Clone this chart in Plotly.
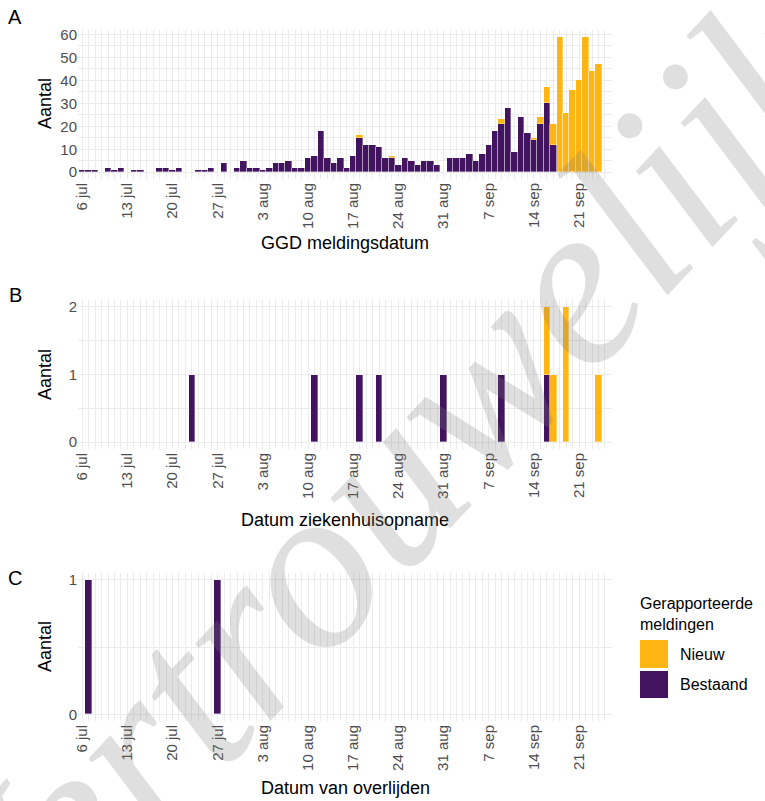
import plotly.graph_objects as go
import pandas as pd

W, H = 765, 801

# ---------------- data ----------------
tick_dates = ["2020-07-06", "2020-07-13", "2020-07-20", "2020-07-27", "2020-08-03", "2020-08-10",
              "2020-08-17", "2020-08-24", "2020-08-31", "2020-09-07", "2020-09-14", "2020-09-21"]
tick_labels = ["6 jul", "13 jul", "20 jul", "27 jul", "3 aug", "10 aug",
               "17 aug", "24 aug", "31 aug", "7 sep", "14 sep", "21 sep"]

# Panel A: GGD meldingsdatum, one value per day from 6 jul to 24 sep
dates_a = pd.date_range("2020-07-06", "2020-09-24", freq="D")
a_bestaand = [1, 1, 1, 0, 2, 1, 2, 0, 1, 1,
              0, 0, 2, 2, 1, 2, 0, 0, 1, 1,
              2, 0, 4, 0, 2, 5, 2, 2, 1, 2,
              4, 4, 5, 2, 2, 6, 7, 18, 6, 4,
              6, 2, 7, 15, 12, 12, 11, 6, 6, 3,
              6, 5, 3, 5, 5, 3, 0, 6, 6, 6,
              8, 5, 8, 12, 18, 21, 28, 9, 24, 17,
              14, 21, 30, 12, 0, 0, 0, 0, 0, 0, 0]
a_nieuw = [0, 0, 0, 0, 0, 0, 0, 0, 0, 0,
           0, 0, 0, 0, 0, 0, 0, 0, 0, 0,
           0, 0, 0, 0, 0, 0, 0, 0, 0, 0,
           0, 0, 0, 0, 0, 0, 0, 0, 0, 0,
           0, 0, 0, 1, 0, 0, 0, 0, 1, 0,
           0, 0, 0, 0, 0, 0, 0, 0, 0, 0,
           0, 0, 0, 0, 0, 2, 0, 0, 0, 0,
           1, 3, 7, 9, 59, 26, 36, 40, 59, 44, 47]

# Panel B: Datum ziekenhuisopname
b_bestaand_dates = ["2020-07-23", "2020-08-11", "2020-08-18", "2020-08-21", "2020-08-31", "2020-09-09", "2020-09-16"]
b_bestaand = [1, 1, 1, 1, 1, 1, 1]
b_nieuw_dates = ["2020-09-16", "2020-09-17", "2020-09-19", "2020-09-24"]
b_nieuw = [1, 1, 2, 1]

# Panel C: Datum van overlijden
c_bestaand_dates = ["2020-07-07", "2020-07-27"]
c_bestaand = [1, 1]

# ---------------- style ----------------
PURPLE = "#42145f"
ORANGE = "#ffb612"
GRID = "#EBEBEB"
FONT = "Liberation Sans"
DAY = 86400000


def px(x):
    return x / W


def py(y):
    return 1 - y / H


def nz(vals):
    return [v if v else None for v in vals]


fig = go.Figure()

bar_kw = dict(width=DAY, marker_line_color="rgba(255,255,255,0.7)", marker_line_width=0.5,
              showlegend=False, hoverinfo="x+y")

fig.add_trace(go.Bar(x=dates_a, y=nz(a_bestaand), name="Bestaand", marker_color=PURPLE,
                     xaxis="x", yaxis="y", **bar_kw))
fig.add_trace(go.Bar(x=dates_a, y=nz(a_nieuw), name="Nieuw", marker_color=ORANGE,
                     xaxis="x", yaxis="y", **bar_kw))
fig.add_trace(go.Bar(x=b_bestaand_dates, y=b_bestaand, name="Bestaand", marker_color=PURPLE,
                     xaxis="x2", yaxis="y2", **bar_kw))
fig.add_trace(go.Bar(x=b_nieuw_dates, y=b_nieuw, name="Nieuw", marker_color=ORANGE,
                     xaxis="x2", yaxis="y2", **bar_kw))
fig.add_trace(go.Bar(x=c_bestaand_dates, y=c_bestaand, name="Bestaand", marker_color=PURPLE,
                     xaxis="x3", yaxis="y3", **bar_kw))

x_left, x_right = 78, 612
panels = [  # (top px, bottom px, y range, y ticks, y minor dtick)
    (30, 179, [-2.95, 61.95], [0, 10, 20, 30, 40, 50, 60], 5),
    (300, 449, [-0.1, 2.1], [0, 1, 2], 0.5),
    (573, 721, [-0.05, 1.05], [0, 1], 0.5),
]

layout = dict(
    width=W, height=H, margin=dict(l=0, r=0, t=0, b=0, autoexpand=False),
    paper_bgcolor="white", plot_bgcolor="white",
    barmode="stack", bargap=0,
    font=dict(family=FONT, color="#4D4D4D", size=15),
)

for i, (top, bot, yr, yt, ymin) in enumerate(panels):
    sx = "" if i == 0 else str(i + 1)
    layout["xaxis" + sx] = dict(
        domain=[px(x_left), px(x_right)], anchor="y" + sx, type="date", automargin=False,
        range=["2020-07-05 08:24", "2020-09-26 02:24"],
        tickmode="array", tickvals=tick_dates, ticktext=tick_labels, tickangle=-90,
        showgrid=True, gridcolor=GRID, gridwidth=1.1, zeroline=False, showline=False, ticks="",
        tickfont=dict(size=15, color="#4D4D4D", family=FONT),
        minor=dict(tickmode="linear", tick0="2020-07-06", dtick=DAY, showgrid=True,
                   gridcolor=GRID, gridwidth=0.7, ticks=""),
        fixedrange=True,
    )
    layout["yaxis" + sx] = dict(
        domain=[py(bot), py(top)], anchor="x" + sx, range=yr, automargin=False,
        tickmode="array", tickvals=yt, showgrid=True, gridcolor=GRID, gridwidth=1.1,
        zeroline=False, showline=False, ticks="",
        tickfont=dict(size=15, color="#4D4D4D", family=FONT),
        minor=dict(tickmode="linear", tick0=0, dtick=ymin, showgrid=True, gridcolor=GRID,
                   gridwidth=0.7, ticks=""),
        fixedrange=True,
    )

fig.update_layout(**layout)

ann = []
# panel letters
for letter, y in [("A", 17), ("B", 295), ("C", 578)]:
    ann.append(dict(text=letter, x=px(15), y=py(y), xanchor="center", yanchor="middle",
                    font=dict(size=20, color="black", family=FONT)))
# y titles
for y in [104, 375, 647]:
    ann.append(dict(text="Aantal", x=px(45), y=py(y), textangle=-90, xanchor="center",
                    yanchor="middle", font=dict(size=18, color="black", family=FONT)))
# x titles
for t, y in [("GGD meldingsdatum", 243), ("Datum ziekenhuisopname", 520), ("Datum van overlijden", 788)]:
    ann.append(dict(text=t, x=px(345), y=py(y), xanchor="center", yanchor="middle",
                    font=dict(size=18, color="black", family=FONT)))
# legend
ann.append(dict(text="Gerapporteerde<br>meldingen", x=px(638), y=py(593), xanchor="left", yanchor="top",
                align="left", font=dict(size=16, color="black", family=FONT)))
ann.append(dict(text="Nieuw", x=px(678), y=py(654), xanchor="left", yanchor="middle",
                font=dict(size=16, color="black", family=FONT)))
ann.append(dict(text="Bestaand", x=px(678), y=py(684), xanchor="left", yanchor="middle",
                font=dict(size=16, color="black", family=FONT)))
# watermark
ann.append(dict(text="Vertrouwelijk", x=px(378), y=py(490), textangle=-47, xanchor="center",
                yanchor="middle",
                font=dict(size=235, color="rgba(120,120,120,0.24)", family="Liberation Serif",
                          style="italic")))

for a in ann:
    a.update(xref="paper", yref="paper", showarrow=False)
fig.update_layout(annotations=ann)

fig.update_layout(shapes=[
    dict(type="rect", xref="paper", yref="paper", x0=px(640), x1=px(668), y0=py(668), y1=py(640),
         fillcolor=ORANGE, line=dict(width=0)),
    dict(type="rect", xref="paper", yref="paper", x0=px(640), x1=px(668), y0=py(698), y1=py(671),
         fillcolor=PURPLE, line=dict(width=0)),
])

fig.write_html("out.html", config={"displayModeBar": False},
               post_script="document.body.style.margin='0';document.body.style.overflow='hidden';")
